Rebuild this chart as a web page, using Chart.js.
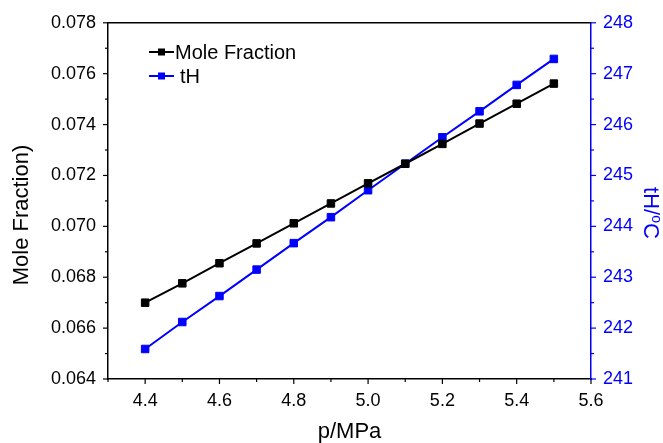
<!DOCTYPE html>
<html>
<head>
<meta charset="utf-8">
<script src="https://cdn.jsdelivr.net/npm/chart.js@4/dist/chart.umd.min.js"></script>
<style>
  html, body { margin: 0; padding: 0; background: #fff; }
  #wrap { width: 663px; height: 443px; }
</style>
</head>
<body>
<div id="wrap"><canvas id="chart"></canvas></div>
<script>
// data
const pressure = [4.4, 4.5, 4.6, 4.7, 4.8, 4.9, 5.0, 5.1, 5.2, 5.3, 5.4, 5.5];
const moleFraction = [0.0670, 0.06776, 0.06855, 0.06933, 0.07012, 0.0709, 0.07169, 0.07246, 0.07324, 0.07404, 0.07482, 0.07561];
const tH = [241.59, 242.12, 242.63, 243.15, 243.67, 244.18, 244.71, 245.23, 245.75, 246.26, 246.78, 247.29];

const BLUE = "#0000ff";
const FONT = "'Liberation Sans', Arial, sans-serif";

// ticks outward, long for labelled, short for minor
const tickMarks = {
  id: "tickMarks",
  afterDraw(chart) {
    const ctx = chart.ctx;
    const area = chart.chartArea;
    ctx.save();
    ctx.lineWidth = 1.2;
    ["x", "y", "y1"].forEach(id => {
      const s = chart.scales[id];
      ctx.strokeStyle = id === "y1" ? BLUE : "#000";
      s.ticks.forEach(t => {
        const major = t.label !== "" && t.label !== undefined;
        const len = major ? 5 : 3;
        const p = s.getPixelForValue(t.value);
        ctx.beginPath();
        if (id === "x") { ctx.moveTo(p, area.bottom); ctx.lineTo(p, area.bottom + len); }
        else if (id === "y") { ctx.moveTo(area.left, p); ctx.lineTo(area.left - len, p); }
        else { ctx.moveTo(area.right, p); ctx.lineTo(area.right + len, p); }
        ctx.stroke();
      });
    });
    // top frame
    ctx.strokeStyle = "#000";
    ctx.lineWidth = 1.5;
    ctx.beginPath();
    ctx.moveTo(area.left, area.top);
    ctx.lineTo(area.right, area.top);
    ctx.stroke();
    ctx.restore();
  }
};

// y axis titles, sitting a bit below the middle like in the original
const sideTitles = {
  id: "sideTitles",
  afterDraw(chart) {
    const ctx = chart.ctx;
    ctx.save();
    ctx.font = "22px " + FONT;
    ctx.textAlign = "center";
    ctx.textBaseline = "middle";

    ctx.save();
    ctx.translate(22, 215);
    ctx.rotate(-Math.PI / 2);
    ctx.fillStyle = "#000";
    ctx.fillText("Mole Fraction)", 0, 0);
    ctx.restore();

    // tH/°C with a raised small o
    ctx.save();
    ctx.translate(650, 213);
    ctx.rotate(Math.PI / 2);
    ctx.fillStyle = BLUE;
    ctx.textAlign = "left";
    const a = "tH/", c = "C";
    ctx.font = "22px " + FONT;
    const wa = ctx.measureText(a).width, wc = ctx.measureText(c).width;
    ctx.font = "14px " + FONT;
    const wo = ctx.measureText("o").width;
    const x0 = -(wa + wo + wc) / 2;
    ctx.font = "22px " + FONT;
    ctx.fillText(a, x0, 0);
    ctx.font = "14px " + FONT;
    ctx.fillText("o", x0 + wa, -6);
    ctx.font = "22px " + FONT;
    ctx.fillText(c, x0 + wa + wo, 0);
    ctx.restore();

    ctx.restore();
  }
};

// legend inside the plot, top left
const innerLegend = {
  id: "innerLegend",
  afterDatasetsDraw(chart) {
    const ctx = chart.ctx;
    const rows = [{ y: 52, tx: 175 }, { y: 76, tx: 180 }];
    ctx.save();
    ctx.font = "20px " + FONT;
    ctx.textBaseline = "middle";
    chart.data.datasets.forEach((ds, i) => {
      const r = rows[i];
      ctx.strokeStyle = ds.borderColor;
      ctx.fillStyle = ds.borderColor;
      ctx.lineWidth = 2;
      ctx.beginPath();
      ctx.moveTo(149, r.y);
      ctx.lineTo(174, r.y);
      ctx.stroke();
      ctx.fillRect(158, r.y - 3.5, 7, 7);
      ctx.fillStyle = "#000";
      ctx.fillText(ds.label, r.tx, r.y + 1);
    });
    ctx.restore();
  }
};

new Chart(document.getElementById("chart"), {
  type: "line",
  data: {
    datasets: [
      {
        label: "Mole Fraction",
        data: pressure.map((p, i) => ({ x: p, y: moleFraction[i] })),
        yAxisID: "y",
        borderColor: "#000",
        backgroundColor: "#000",
        borderWidth: 2,
        pointStyle: "rect",
        pointRadius: 5.3,
        pointBorderWidth: 1,
        tension: 0
      },
      {
        label: "tH",
        data: pressure.map((p, i) => ({ x: p, y: tH[i] })),
        yAxisID: "y1",
        borderColor: BLUE,
        backgroundColor: BLUE,
        borderWidth: 2,
        pointStyle: "rect",
        pointRadius: 5.3,
        pointBorderWidth: 1,
        tension: 0
      }
    ]
  },
  options: {
    responsive: true,
    maintainAspectRatio: false,
    animation: false,
    layout: { padding: { top: 22, left: 0, right: 0, bottom: 0 } },
    plugins: { legend: { display: false }, tooltip: { enabled: false } },
    scales: {
      x: {
        type: "linear",
        min: 4.3,
        max: 5.6,
        afterFit: s => { s.height = 64; },
        grid: { display: true, drawOnChartArea: false, drawTicks: false },
        border: { display: true, color: "#000", width: 1.5 },
        ticks: {
          stepSize: 0.1,
          autoSkip: false,
          maxRotation: 0,
          padding: 11,
          color: "#000",
          font: { family: FONT, size: 18 },
          callback: v => {
            const k = Math.round(v * 10);
            return k % 2 === 0 ? (k / 10).toFixed(1) : "";
          }
        },
        title: { display: true, text: "p/MPa", color: "#000", font: { family: FONT, size: 22, lineHeight: 1 }, padding: { top: 0, bottom: 0 } }
      },
      y: {
        position: "left",
        min: 0.064,
        max: 0.078,
        afterFit: s => { s.width = 108; },
        grid: { display: true, drawOnChartArea: false, drawTicks: false },
        border: { display: true, color: "#000", width: 1.5 },
        ticks: {
          stepSize: 0.001,
          autoSkip: false,
          padding: 12,
          color: "#000",
          font: { family: FONT, size: 18 },
          callback: v => {
            const k = Math.round(v * 1000);
            return k % 2 === 0 ? (k / 1000).toFixed(3) : "";
          }
        }
      },
      y1: {
        position: "right",
        min: 241,
        max: 248,
        afterFit: s => { s.width = 72; },
        grid: { display: true, drawOnChartArea: false, drawTicks: false },
        border: { display: true, color: BLUE, width: 1.5 },
        ticks: {
          stepSize: 0.5,
          autoSkip: false,
          padding: 12,
          color: BLUE,
          font: { family: FONT, size: 18 },
          callback: v => Number.isInteger(v) ? String(v) : ""
        }
      }
    }
  },
  plugins: [tickMarks, sideTitles, innerLegend]
});
</script>
</body>
</html>
